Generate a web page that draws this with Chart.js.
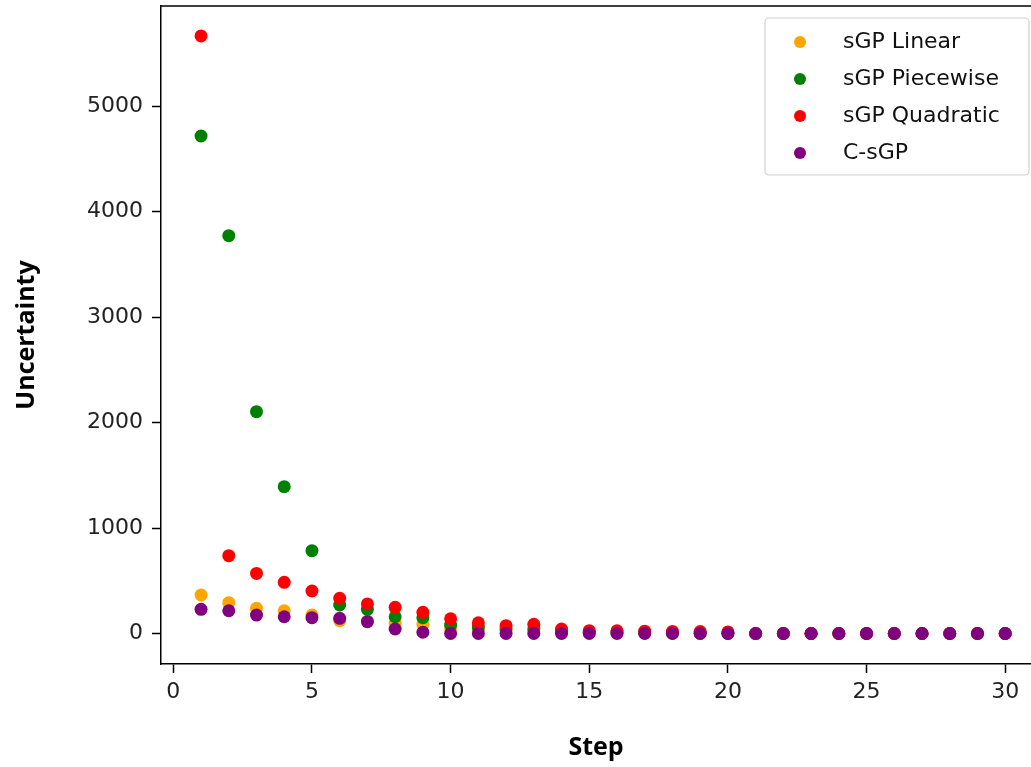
<!DOCTYPE html>
<html>
<head>
<meta charset="utf-8">
<script src="https://cdn.jsdelivr.net/npm/chart.js@4"></script>
<style>
  html, body { margin: 0; padding: 0; background: #fff; }
  #wrap { width: 1031px; height: 767px; }
</style>
</head>
<body>
<div id="wrap"><canvas id="uncChart" width="1031" height="767"></canvas></div>
<script>
// --- data ---
const steps = [1, 2, 3, 4, 5, 6, 7, 8, 9, 10, 11, 12, 13, 14, 15, 16, 17, 18, 19, 20, 21, 22, 23, 24, 25, 26, 27, 28, 29, 30];
const sgpLinear    = [365, 292, 239, 216, 175, 121, 118, 97, 87, 50, 35, 25, 20, 15, 10, 8, 5, 3, 2, 1, 0, 0, 0, 0, 0, 0, 0, 0, 0, 0];
const sgpPiecewise = [4716, 3771, 2103, 1392, 785, 270, 229, 159, 150, 80, 60, 45, 45, 20, 12, 10, 8, 5, 3, 2, 0, 0, 0, 0, 0, 0, 0, 0, 0, 0];
const sgpQuadratic = [5664, 738, 570, 485, 403, 334, 280, 248, 201, 140, 102, 74, 87, 43, 27, 25, 22, 20, 18, 15, 0, 0, 0, 0, 0, 0, 0, 0, 0, 0];
const cSgp         = [229, 216, 175, 159, 150, 144, 112, 43, 12, 0, 0, 0, 0, 0, 0, 0, 0, 0, 0, 0, 0, 0, 0, 0, 0, 0, 0, 0, 0, 0];
const xTicks = [0, 5, 10, 15, 20, 25, 30];
const yTicks = [0, 1000, 2000, 3000, 4000, 5000];

const tickFont = { family: 'DejaVu Sans', size: 22 };
const titleFont = { family: 'Open Sans', size: 25, weight: 'bold' };

function pts(vals) {
  return steps.map((s, i) => ({ x: s, y: vals[i] }));
}

// --- top spine + matplotlib style legend box ---
const framePlugin = {
  id: 'frame',
  afterDraw(chart) {
    const { ctx, chartArea } = chart;
    ctx.save();
    ctx.strokeStyle = '#000';
    ctx.lineWidth = 1.5;
    ctx.beginPath();
    ctx.moveTo(chartArea.left, chartArea.top);
    ctx.lineTo(chartArea.right, chartArea.top);
    ctx.stroke();

    // legend
    const bx = 765, by = 18, bw = 264, bh = 157;
    ctx.fillStyle = 'rgba(255,255,255,0.8)';
    ctx.strokeStyle = '#d0d0d0';
    ctx.lineWidth = 1.2;
    ctx.beginPath();
    ctx.roundRect(bx, by, bw, bh, 4);
    ctx.fill();
    ctx.stroke();

    ctx.font = '22px "DejaVu Sans"';
    ctx.textBaseline = 'middle';
    ctx.textAlign = 'left';
    chart.data.datasets.forEach((ds, i) => {
      const y = 42 + i * 37;
      ctx.fillStyle = ds.backgroundColor;
      ctx.beginPath();
      ctx.arc(800, y, 6, 0, Math.PI * 2);
      ctx.fill();
      ctx.fillStyle = '#111';
      ctx.fillText(ds.label, 843, y);
    });
    ctx.restore();
  }
};

document.addEventListener('DOMContentLoaded', function () {
  const ctx = document.getElementById('uncChart').getContext('2d');
  new Chart(ctx, {
    type: 'scatter',
    data: {
      datasets: [
        { label: 'sGP Linear', data: pts(sgpLinear), backgroundColor: '#ffa500', order: 4 },
        { label: 'sGP Piecewise', data: pts(sgpPiecewise), backgroundColor: '#008000', order: 3 },
        { label: 'sGP Quadratic', data: pts(sgpQuadratic), backgroundColor: '#ff0000', order: 2 },
        { label: 'C-sGP', data: pts(cSgp), backgroundColor: '#800080', order: 1 }
      ]
    },
    options: {
      responsive: false,
      animation: false,
      layout: { autoPadding: false, padding: { top: 6, right: 0, left: 0, bottom: 0 } },
      elements: { point: { radius: 6.5, borderWidth: 0, hoverRadius: 6.5 } },
      plugins: {
        legend: { display: false },
        tooltip: { enabled: false }
      },
      scales: {
        x: {
          type: 'linear',
          min: -0.444,
          max: 30.93,
          afterBuildTicks: scale => { scale.ticks = xTicks.map(v => ({ value: v })); },
          afterFit: scale => {
            scale.height = 103;
            scale.paddingLeft = 0;
            scale.paddingRight = 0;
          },
          grid: { display: true, drawOnChartArea: false, drawTicks: true, tickLength: 9, tickWidth: 1.5, color: '#000' },
          border: { display: true, color: '#000', width: 1.5 },
          ticks: { font: tickFont, color: '#222', padding: 6, maxRotation: 0, callback: v => String(v) },
          title: { display: true, text: 'Step', font: titleFont, color: '#000', padding: { top: 0, bottom: 4 } }
        },
        y: {
          type: 'linear',
          min: -289,
          max: 5948,
          afterBuildTicks: scale => { scale.ticks = yTicks.map(v => ({ value: v })); },
          afterFit: scale => {
            scale.width = 161;
            scale.paddingTop = 0;
            scale.paddingBottom = 0;
          },
          grid: { display: true, drawOnChartArea: false, drawTicks: true, tickLength: 9, tickWidth: 1.5, color: '#000' },
          border: { display: true, color: '#000', width: 1.5 },
          ticks: { font: tickFont, color: '#222', padding: 9, callback: v => String(v) },
          title: { display: true, text: 'Uncertainty', font: titleFont, color: '#000', padding: { top: 12, bottom: 0 } }
        }
      }
    },
    plugins: [framePlugin]
  });
});
</script>
</body>
</html>
